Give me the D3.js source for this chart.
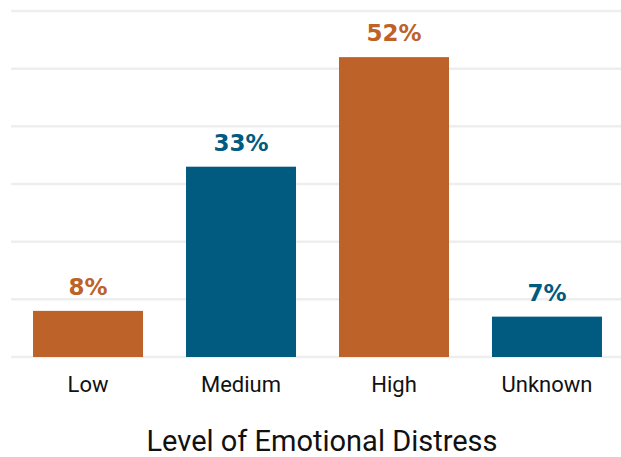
<!DOCTYPE html>
<html>
<head>
<meta charset="utf-8">
<script src="https://cdn.jsdelivr.net/npm/d3@7"></script>
<style>
  html, body { margin: 0; padding: 0; background: #ffffff; }
  svg { display: block; }
</style>
</head>
<body>
<div id="chart"></div>
<script>
const categories = ["Low", "Medium", "High", "Unknown"];
const values = [8, 33, 52, 7];
const valueLabels = ["8%", "33%", "52%", "7%"];
const barColors = ["#bd6229", "#015a80", "#bd6229", "#015a80"];
const gridTicks = [0, 10, 20, 30, 40, 50, 60];
const axisTitle = "Level of Emotional Distress";

const W = 621, H = 457;
const svg = d3.select("#chart").append("svg").attr("width", W).attr("height", H);

const x = d3.scaleBand().domain(categories).range([11, 624]).paddingInner(0.281).paddingOuter(0.144);
const y = d3.scaleLinear().domain([0, 60]).range([357, 11]);

// gridlines
svg.append("g").selectAll("line").data(gridTicks).join("line")
  .attr("x1", 11).attr("x2", 621)
  .attr("y1", d => y(d)).attr("y2", d => y(d))
  .attr("stroke", "#eeeeee").attr("stroke-width", 2.5);

// bars
svg.append("g").selectAll("rect").data(categories).join("rect")
  .attr("x", d => x(d))
  .attr("width", x.bandwidth())
  .attr("y", (d, i) => y(values[i]))
  .attr("height", (d, i) => y(0) - y(values[i]))
  .attr("fill", (d, i) => barColors[i]);

// value labels
svg.append("g").selectAll("text").data(categories).join("text")
  .attr("x", d => x(d) + x.bandwidth() / 2)
  .attr("y", (d, i) => y(values[i]) - 16)
  .attr("text-anchor", "middle")
  .attr("font-family", "DejaVu Sans, sans-serif")
  .attr("font-weight", "bold")
  .attr("font-size", 23)
  .attr("fill", (d, i) => barColors[i])
  .text((d, i) => valueLabels[i]);

// category axis
const xAxis = d3.axisBottom(x).tickSize(0).tickPadding(0);
const gx = svg.append("g").attr("transform", "translate(0,376)").call(xAxis);
gx.select(".domain").remove();
gx.selectAll("text")
  .attr("dy", "0.71em")
  .attr("font-family", "Roboto, sans-serif")
  .attr("font-size", 22)
  .attr("fill", "#111111");

// axis title
svg.append("text")
  .attr("x", 322).attr("y", 451)
  .attr("text-anchor", "middle")
  .attr("font-family", "Roboto, sans-serif")
  .attr("font-size", 29)
  .attr("fill", "#111111")
  .text(axisTitle);
</script>
</body>
</html>
